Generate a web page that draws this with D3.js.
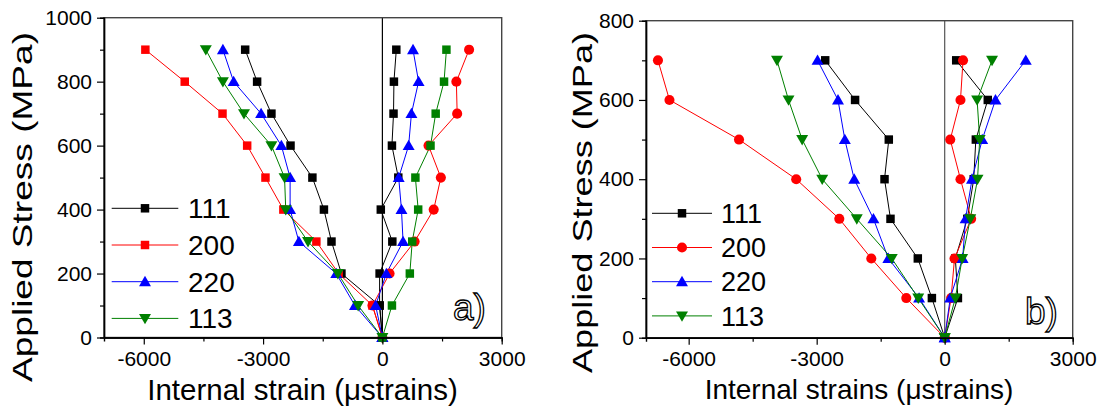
<!DOCTYPE html>
<html>
<head>
<meta charset="utf-8">
<script src="https://cdn.jsdelivr.net/npm/d3@7"></script>
<style>
  body { margin: 0; background: #fff; }
  svg text { font-family: "Liberation Sans", Arial, sans-serif; }
</style>
</head>
<body>
<svg id="chart" width="1101" height="407"></svg>
<script>
'use strict';

// ---- data ----
const seriesNames = ['111', '200', '220', '113']
const seriesColors = ['#000000', '#ff0000', '#0000ff', '#008000']

// panel a) stress levels (MPa) and strains (microstrain), left / right branches
const stressA = [0, 100, 200, 300, 400, 500, 600, 700, 800, 900]
const a111L = [0, -70, -1030, -1280, -1470, -1760, -2310, -2790, -3150, -3450]
const a111R = [0, -70, -70, 250, -40, 400, 240, 280, 290, 350]
const a200L = [0, -250, -1100, -1660, -2490, -2940, -3400, -4020, -4970, -5960]
const a200R = [0, -250, 180, 810, 1290, 1470, 1160, 1880, 1860, 2180]
const a220L = [0, -690, -1160, -2100, -2320, -2320, -2540, -3050, -3740, -4010]
const a220R = [0, -170, 100, 520, 480, 410, 660, 730, 910, 770]
const a113L = [0, -610, -1120, -1870, -2430, -2460, -2790, -3480, -4010, -4440]
const a113R = [0, 240, 690, 750, 900, 830, 1210, 1340, 1550, 1610]

// panel b)
const stressB = [0, 100, 200, 300, 400, 500, 600, 700]
const b111L = [0, -300, -630, -1270, -1410, -1310, -2100, -2800]
const b111R = [0, 310, 250, 530, 680, 730, 1010, 270]
const b200L = [0, -900, -1720, -2470, -3480, -4820, -6450, -6720]
const b200R = [0, 150, 230, 620, 370, 130, 370, 430]
const b220L = [0, -600, -1320, -1670, -2120, -2340, -2500, -2980]
const b220R = [0, 130, 420, 490, 640, 880, 1190, 1900]
const b113L = [0, -620, -1240, -2060, -2870, -3340, -3660, -3930]
const b113R = [0, 250, 410, 600, 770, 820, 760, 1110]

const xTicks = [-6000, -3000, 0, 3000]
const xMinor = [-4500, -1500, 1500]
const yTicksA = [0, 200, 400, 600, 800, 1000]
const yMinorA = [100, 300, 500, 700, 900]
const yTicksB = [0, 200, 400, 600, 800]
const yMinorB = [100, 300, 500, 700]

const svg = d3.select('#chart')

const symbols = {
  square: d3.symbolSquare,
  circle: d3.symbolCircle,
  up: d3.symbolTriangle,
  down: d3.symbolTriangle
}
const symSize = { square: 72, circle: 80, up: 62, down: 62 }

function marker(g, shape, color, x, y) {
  let t = `translate(${x},${y})`
  if (shape === 'down') t += ' rotate(180) translate(0,1)'
  if (shape === 'up') t += ' translate(0,1)'
  g.append('path')
    .attr('d', d3.symbol().type(symbols[shape]).size(symSize[shape])())
    .attr('transform', t)
    .attr('fill', color)
}

function drawPanel(p) {
  const x = d3.scaleLinear().domain([-7000, 3000]).range(p.xr)
  const y = d3.scaleLinear().domain(p.yd).range(p.yr)
  const g = svg.append('g')

  // zero line
  g.append('line')
    .attr('x1', x(0)).attr('x2', x(0))
    .attr('y1', y(p.yd[0])).attr('y2', y(p.yd[1]))
    .attr('stroke', p.zeroColor).attr('stroke-width', 1.2)

  // series
  const line = d3.line().x(d => x(d[0])).y(d => y(d[1]))
  p.branches.forEach(b => {
    const pts = b.vals.map((v, i) => [v, p.stress[i]])
    g.append('path').datum(pts)
      .attr('d', line).attr('fill', 'none')
      .attr('stroke', b.color).attr('stroke-width', 1)
  })
  p.branches.forEach(b => {
    b.vals.forEach((v, i) => marker(g, b.shape, b.color, x(v), y(p.stress[i])))
  })

  // frame
  g.append('rect')
    .attr('x', p.xr[0]).attr('y', p.yr[1])
    .attr('width', p.xr[1] - p.xr[0]).attr('height', p.yr[0] - p.yr[1])
    .attr('fill', 'none').attr('stroke', '#444').attr('stroke-width', 1.4)

  // axes (major ticks with labels)
  const xAxis = g.append('g').attr('transform', `translate(0,${p.yr[0]})`)
    .call(d3.axisBottom(x).tickValues(xTicks).tickSize(7).tickSizeOuter(0)
      .tickFormat(d => d < 0 ? '-' + Math.abs(d) : String(d)))
  const yAxis = g.append('g').attr('transform', `translate(${p.xr[0]},0)`)
    .call(d3.axisLeft(y).tickValues(p.yTicks).tickSize(7).tickSizeOuter(0).tickFormat(d3.format('d')))

  xAxis.selectAll('.tick text')
    .attr('y', 28.5).attr('dy', 0)
    .style('font-size', '21px').attr('fill', '#000')
  yAxis.selectAll('.tick text')
    .attr('x', -12).style('font-size', '21px').attr('fill', '#000')

  // minor ticks
  xAxis.append('g').call(d3.axisBottom(x).tickValues(xMinor).tickSize(4).tickFormat(''))
  yAxis.append('g').call(d3.axisLeft(y).tickValues(p.yMinor).tickSize(4).tickFormat(''))

  g.selectAll('.domain').attr('stroke', '#000').attr('stroke-width', 1.4)
  g.selectAll('.tick line').attr('stroke', '#000').attr('stroke-width', 1.2)

  // titles
  g.append('text')
    .attr('transform', `translate(${p.yTitle[0]},${p.yTitle[1]}) rotate(-90)`)
    .attr('text-anchor', 'middle')
    .attr('textLength', p.yTitle[2]).attr('lengthAdjust', 'spacingAndGlyphs')
    .style('font-size', '28px').text('Applied Stress (MPa)')
  g.append('text')
    .attr('x', p.xTitle[0]).attr('y', p.xTitle[1])
    .attr('text-anchor', 'middle')
    .style('font-size', p.xTitle[2] + 'px').text(p.xLabel)

  // legend
  p.legendShapes.forEach((shape, i) => {
    const ly = p.legend.y0 + i * p.legend.dy
    g.append('line')
      .attr('x1', p.legend.x1).attr('x2', p.legend.x2)
      .attr('y1', ly).attr('y2', ly)
      .attr('stroke', seriesColors[i]).attr('stroke-width', 1)
    marker(g, shape, seriesColors[i], (p.legend.x1 + p.legend.x2) / 2, ly)
    g.append('text')
      .attr('x', p.legend.tx).attr('y', ly + p.legend.fs * 0.36)
      .style('font-size', p.legend.fs + 'px').text(seriesNames[i])
  })

  // panel label (outlined)
  g.append('text')
    .attr('x', p.tag[0]).attr('y', p.tag[1])
    .style('font-size', '37px')
    .attr('fill', '#fff').attr('stroke', '#000').attr('stroke-width', 1.3)
    .text(p.tagText)
}

drawPanel({
  xr: [104, 501.7], yr: [337.5, 17.7], yd: [0, 1000],
  stress: stressA, yTicks: yTicksA, yMinor: yMinorA,
  zeroColor: '#000',
  branches: [
    { vals: a111L, color: seriesColors[0], shape: 'square' },
    { vals: a111R, color: seriesColors[0], shape: 'square' },
    { vals: a200L, color: seriesColors[1], shape: 'square' },
    { vals: a200R, color: seriesColors[1], shape: 'circle' },
    { vals: a220L, color: seriesColors[2], shape: 'up' },
    { vals: a220R, color: seriesColors[2], shape: 'up' },
    { vals: a113L, color: seriesColors[3], shape: 'down' },
    { vals: a113R, color: seriesColors[3], shape: 'square' }
  ],
  legendShapes: ['square', 'square', 'up', 'down'],
  legend: { x1: 111.7, x2: 178.3, tx: 188, y0: 208.3, dy: 36.7, fs: 28 },
  yTitle: [32, 207, 350],
  xTitle: [302.5, 400, 29.5],
  xLabel: 'Internal strain (\u03bcstrains)',
  tag: [453, 320], tagText: 'a)'
})

drawPanel({
  xr: [646, 1072.7], yr: [337.7, 20.7], yd: [0, 800],
  stress: stressB, yTicks: yTicksB, yMinor: yMinorB,
  zeroColor: '#555',
  branches: [
    { vals: b111L, color: seriesColors[0], shape: 'square' },
    { vals: b111R, color: seriesColors[0], shape: 'square' },
    { vals: b200L, color: seriesColors[1], shape: 'circle' },
    { vals: b200R, color: seriesColors[1], shape: 'circle' },
    { vals: b220L, color: seriesColors[2], shape: 'up' },
    { vals: b220R, color: seriesColors[2], shape: 'up' },
    { vals: b113L, color: seriesColors[3], shape: 'down' },
    { vals: b113R, color: seriesColors[3], shape: 'down' }
  ],
  legendShapes: ['square', 'circle', 'up', 'down'],
  legend: { x1: 652, x2: 712, tx: 721, y0: 213.3, dy: 34.2, fs: 27 },
  yTitle: [592, 202.5, 341],
  xTitle: [859, 399, 28],
  xLabel: 'Internal strains (\u03bcstrains)',
  tag: [1025, 324], tagText: 'b)'
})
</script>
</body>
</html>
